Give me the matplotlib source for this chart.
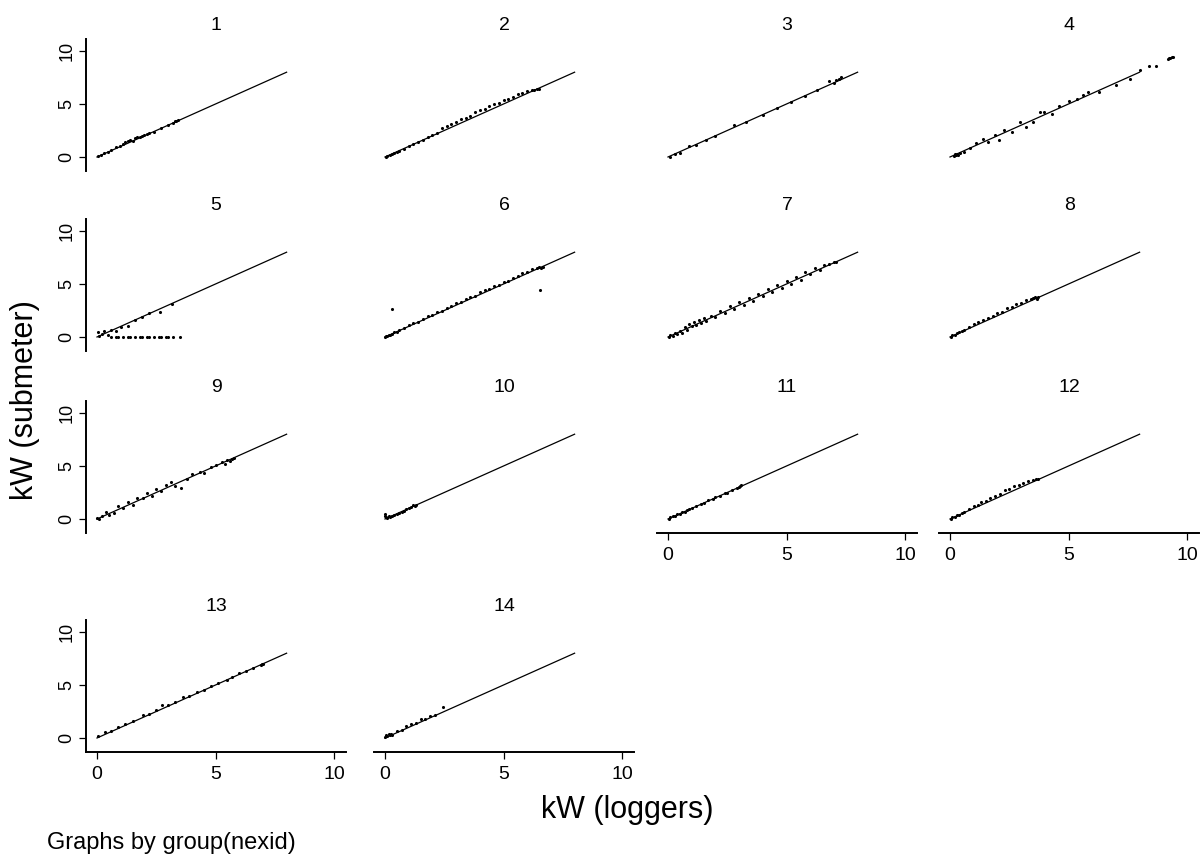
import matplotlib
matplotlib.use("Agg")
import matplotlib.pyplot as plt

plt.rcParams['font.family'] = ['Liberation Sans', 'DejaVu Sans']

# ----------------------------------------------------------------------------------------------------------------------
# data: kW logged vs kW submetered, one pair of lists per nexid group ---------------------------------------------------
group_ids = ['1', '2', '3', '4', '5', '6', '7', '8', '9', '10', '11', '12', '13', '14']

log_1 = [0.05, 0.15, 0.3, 0.45, 0.6, 0.8, 0.95, 1.1, 1.2, 1.3, 1.4, 1.5, 1.6, 1.7, 1.8,
         1.9, 2.0, 2.1, 2.2, 2.4, 2.7, 3.0, 3.2, 3.3, 3.35, 3.4]
sub_1 = [0.1, 0.2, 0.35, 0.5, 0.7, 0.9, 1.0, 1.2, 1.4, 1.5, 1.6, 1.55, 1.75, 1.9, 1.85,
         2.0, 2.1, 2.15, 2.25, 2.4, 2.7, 3.0, 3.25, 3.35, 3.4, 3.5]

log_2 = [0.05, 0.1, 0.2, 0.3, 0.4, 0.5, 0.6, 0.8, 1.0, 1.2, 1.4, 1.6, 1.8, 2.0, 2.2, 2.4, 2.6, 2.8, 3.0,
         3.2, 3.4, 3.6, 3.8, 4.0, 4.2, 4.4, 4.6, 4.8, 5.0, 5.2, 5.4, 5.6, 5.8, 6.0, 6.2, 6.3, 6.4, 6.5]
sub_2 = [0.0, 0.1, 0.15, 0.25, 0.35, 0.45, 0.55, 0.8, 1.0, 1.2, 1.45, 1.65, 1.9, 2.1, 2.3, 2.7, 2.9, 3.1, 3.3,
         3.6, 3.7, 3.9, 4.2, 4.4, 4.5, 4.8, 5.0, 5.1, 5.4, 5.5, 5.7, 5.9, 6.0, 6.2, 6.3, 6.35, 6.4, 6.45]

log_3 = [0.1, 0.3, 0.5, 0.9, 1.2, 1.6, 2.0, 2.8, 3.3, 4.0, 4.6, 5.2, 5.8, 6.3, 6.8, 7.0, 7.1, 7.2, 7.3]
sub_3 = [0.0, 0.3, 0.4, 1.0, 1.1, 1.6, 2.0, 3.0, 3.3, 4.0, 4.6, 5.2, 5.8, 6.3, 7.2, 7.0, 7.3, 7.4, 7.5]

log_4 = [0.15, 0.2, 0.25, 0.3, 0.35, 0.42, 0.6, 0.85, 1.1, 1.38, 1.6, 1.88, 2.05, 2.26, 2.6, 2.94, 3.22, 3.5,
         3.81, 3.95, 4.3, 4.62, 5.0, 5.34, 5.62, 5.83, 6.3, 7.0, 7.6, 8.0, 8.4, 8.7, 9.2, 9.25, 9.3, 9.35, 9.4]
sub_4 = [0.1, 0.25, 0.15, 0.3, 0.2, 0.35, 0.5, 0.82, 1.28, 1.66, 1.4, 2.07, 1.6, 2.54, 2.4, 3.26, 2.85, 3.3,
         4.24, 4.2, 4.1, 4.77, 5.26, 5.48, 5.86, 6.1, 6.1, 6.8, 7.4, 8.2, 8.54, 8.54, 9.2, 9.3, 9.3, 9.4, 9.45]

log_5 = [0.05, 0.1, 0.2, 0.3, 0.45, 0.6, 0.8, 1.0, 1.3, 1.6, 1.9, 2.2, 2.65, 3.16,
         0.6, 0.8, 0.9, 1.1, 1.3, 1.4, 1.6, 1.8, 1.9, 2.1, 2.2, 2.4, 2.6, 2.7, 2.9, 3.0, 3.2, 3.5]
sub_5 = [0.5, 0.1, 0.3, 0.6, 0.2, 0.7, 0.55, 0.9, 1.0, 1.6, 1.9, 2.3, 2.4, 3.1,
         0.0, 0.0, 0.0, 0.0, 0.0, 0.0, 0.0, 0.0, 0.0, 0.0, 0.0, 0.0, 0.0, 0.0, 0.0, 0.0, 0.0, 0.0]

log_6 = [0.0, 0.05, 0.1, 0.15, 0.2, 0.3, 0.4, 0.5, 0.6, 0.8, 1.0, 1.2, 1.4, 1.6, 1.8, 2.0, 2.2, 2.4, 2.6, 2.8,
         3.0, 3.2, 3.4, 3.6, 3.8, 4.0, 4.2, 4.4, 4.6, 4.8, 5.0, 5.2, 5.4, 5.6, 5.8, 6.0, 6.2, 6.4, 6.5, 6.6,
         6.65, 0.31, 6.55]
sub_6 = [0.0, 0.1, 0.05, 0.2, 0.15, 0.3, 0.45, 0.5, 0.65, 0.85, 1.1, 1.3, 1.45, 1.7, 1.95, 2.1, 2.35, 2.5, 2.75, 2.9,
         3.2, 3.3, 3.6, 3.8, 3.9, 4.2, 4.4, 4.5, 4.8, 4.9, 5.2, 5.3, 5.6, 5.8, 6.0, 6.1, 6.4, 6.5, 6.6, 6.55,
         6.6, 2.6, 4.4]

log_7 = [0.05, 0.1, 0.2, 0.3, 0.4, 0.5, 0.6, 0.7, 0.8, 0.9, 1.0, 1.1, 1.2, 1.3, 1.4, 1.5, 1.6, 1.8, 2.0, 2.2,
         2.4, 2.6, 2.8, 3.0, 3.2, 3.4, 3.6, 3.8, 4.0, 4.2, 4.4, 4.6, 4.8, 5.0, 5.2, 5.4, 5.6, 5.8, 6.0, 6.2,
         6.4, 6.6, 6.8, 7.0, 7.1]
sub_7 = [0.0, 0.2, 0.1, 0.35, 0.3, 0.6, 0.4, 0.9, 0.7, 1.2, 1.0, 1.4, 1.1, 1.6, 1.3, 1.8, 1.5, 2.0, 1.9, 2.5,
         2.3, 2.9, 2.6, 3.3, 3.0, 3.7, 3.4, 4.1, 3.9, 4.5, 4.2, 4.9, 4.6, 5.3, 5.0, 5.7, 5.4, 6.1, 5.9, 6.5,
         6.3, 6.8, 6.9, 7.1, 7.05]

log_8 = [0.05, 0.1, 0.2, 0.3, 0.4, 0.5, 0.6, 0.8, 1.0, 1.2, 1.4, 1.6, 1.8, 2.0, 2.2, 2.4, 2.6, 2.8, 3.0, 3.2,
         3.4, 3.5, 3.6, 3.65, 3.7]
sub_8 = [0.0, 0.15, 0.2, 0.4, 0.45, 0.6, 0.7, 0.95, 1.2, 1.4, 1.6, 1.8, 2.0, 2.3, 2.4, 2.7, 2.8, 3.1, 3.2, 3.45,
         3.6, 3.7, 3.75, 3.6, 3.8]

log_9 = [0.0, 0.1, 0.2, 0.38, 0.5, 0.7, 0.9, 1.1, 1.3, 1.5, 1.7, 1.93, 2.1, 2.3, 2.5, 2.7, 2.9, 3.13, 3.3, 3.55,
         3.8, 4.0, 4.33, 4.5, 4.8, 5.0, 5.27, 5.4, 5.5, 5.6, 5.7, 5.8]
sub_9 = [0.1, 0.0, 0.3, 0.7, 0.4, 0.6, 1.2, 1.0, 1.6, 1.3, 2.0, 1.95, 2.5, 2.2, 2.8, 2.6, 3.2, 3.5, 3.1, 2.9,
         3.8, 4.2, 4.46, 4.3, 4.9, 5.1, 5.4, 5.2, 5.6, 5.5, 5.7, 5.75]

log_10 = [0.0, 0.02, 0.05, 0.1, 0.15, 0.2, 0.3, 0.4, 0.5, 0.6, 0.7, 0.8, 0.9, 1.0, 1.1, 1.2, 1.25, 1.3]
sub_10 = [0.5, 0.3, 0.2, 0.1, 0.25, 0.15, 0.3, 0.4, 0.5, 0.6, 0.7, 0.8, 0.9, 1.0, 1.1, 1.3, 1.2, 1.35]

log_11 = [0.05, 0.1, 0.2, 0.3, 0.4, 0.5, 0.6, 0.7, 0.8, 0.9, 1.0, 1.2, 1.4, 1.5, 1.7, 1.9, 2.0, 2.2, 2.4, 2.5,
          2.7, 2.9, 3.0, 3.04, 3.1]
sub_11 = [0.0, 0.15, 0.3, 0.25, 0.45, 0.5, 0.65, 0.7, 0.85, 0.95, 1.05, 1.2, 1.45, 1.5, 1.75, 1.9, 2.05, 2.2, 2.45, 2.5,
          2.75, 2.9, 3.05, 3.1, 3.2]

log_12 = [0.05, 0.1, 0.2, 0.3, 0.4, 0.5, 0.6, 0.8, 1.0, 1.2, 1.3, 1.5, 1.7, 1.9, 2.1, 2.3, 2.5, 2.7, 2.9, 3.1,
          3.3, 3.5, 3.64, 3.7]
sub_12 = [0.0, 0.2, 0.15, 0.35, 0.4, 0.6, 0.65, 0.95, 1.2, 1.3, 1.6, 1.7, 2.0, 2.2, 2.4, 2.7, 2.8, 3.1, 3.2, 3.4,
          3.6, 3.7, 3.74, 3.8]

log_13 = [0.05, 0.35, 0.6, 0.9, 1.2, 1.5, 1.94, 2.2, 2.5, 2.73, 3.0, 3.3, 3.62, 3.9, 4.2, 4.5, 4.8, 5.1, 5.47, 5.7,
          6.0, 6.3, 6.6, 6.9, 6.98, 7.0]
sub_13 = [0.15, 0.6, 0.7, 1.0, 1.3, 1.6, 2.2, 2.3, 2.6, 3.1, 3.1, 3.4, 3.85, 4.0, 4.3, 4.5, 4.9, 5.2, 5.5, 5.8,
          6.1, 6.3, 6.6, 6.9, 6.95, 7.0]

log_14 = [0.0, 0.05, 0.1, 0.15, 0.2, 0.25, 0.3, 0.5, 0.7, 0.9, 1.1, 1.3, 1.5, 1.7, 1.9, 2.1, 2.45]
sub_14 = [0.1, 0.3, 0.2, 0.4, 0.25, 0.35, 0.3, 0.7, 0.8, 1.1, 1.3, 1.4, 1.8, 1.8, 2.1, 2.2, 2.9]

# reference line drawn in every panel
line_x = [0, 8]
line_y = [0, 8]

axis_ticks = [0, 5, 10]
tick_labels = ['0', '5', '10']

panel_x = [log_1, log_2, log_3, log_4, log_5, log_6, log_7, log_8, log_9, log_10, log_11, log_12, log_13, log_14]
panel_y = [sub_1, sub_2, sub_3, sub_4, sub_5, sub_6, sub_7, sub_8, sub_9, sub_10, sub_11, sub_12, sub_13, sub_14]

# ----------------------------------------------------------------------------------------------------------------------
# layout (pixels of the 1204x861 figure) ------------------------------------------------------------------------------
W, H = 1204, 861
fig = plt.figure(figsize=(W / 100, H / 100), dpi=100)

col_zero = [97, 385, 668, 950]   # pixel where x = 0 sits in each column
row_zero = [157, 337, 519, 738]  # pixel where y = 0 sits in each row
px_x = 23.7
px_y = 10.6
x_lo, x_hi = -0.45, 10.5
y_lo, y_hi = -1.3, 11.1

bottom_panels = [10, 11, 12, 13]

for i in range(len(group_ids)):
    r, c = divmod(i, 4)
    left = col_zero[c] + x_lo * px_x
    width = (x_hi - x_lo) * px_x
    top = row_zero[r] - y_hi * px_y
    height = (y_hi - y_lo) * px_y
    ax = fig.add_axes([left / W, 1 - (top + height) / H, width / W, height / H])

    ax.scatter(panel_x[i], panel_y[i], s=5, c='black', linewidths=0, zorder=3)
    ax.plot(line_x, line_y, color='black', lw=0.9, zorder=2)

    ax.set_xlim(x_lo, x_hi)
    ax.set_ylim(y_lo, y_hi)
    ax.set_title(group_ids[i], fontsize=14, pad=7)

    for s in ['top', 'right', 'left', 'bottom']:
        ax.spines[s].set_visible(False)

    # y axis only in first column
    if c == 0:
        ax.spines['left'].set_visible(True)
        ax.spines['left'].set_linewidth(1.4)
        ax.set_yticks(axis_ticks)
        ax.set_yticklabels(tick_labels, rotation=90, va='center')
        ax.tick_params(axis='y', direction='out', length=5, width=0.9, labelsize=13, pad=3)
    else:
        ax.set_yticks([])

    # x axis only on the last panel of each column
    if i in bottom_panels:
        ax.spines['bottom'].set_visible(True)
        ax.spines['bottom'].set_linewidth(1.4)
        ax.set_xticks(axis_ticks)
        ax.set_xticklabels(tick_labels)
        ax.tick_params(axis='x', direction='out', length=5, width=0.9, labelsize=14, pad=5)
    else:
        ax.set_xticks([])

    ax.patch.set_alpha(0)

# ----------------------------------------------------------------------------------------------------------------------
# shared labels --------------------------------------------------------------------------------------------------------
fig.text(25 / W, 1 - 400 / H, 'kW (submeter)', rotation=90, fontsize=22, ha='center', va='center')
fig.text(627 / W, 1 - 810 / H, 'kW (loggers)', fontsize=22, ha='center', va='center')
fig.text(47 / W, 1 - 843 / H, 'Graphs by group(nexid)', fontsize=17, ha='left', va='center')

fig.savefig('out.png', dpi=100)
